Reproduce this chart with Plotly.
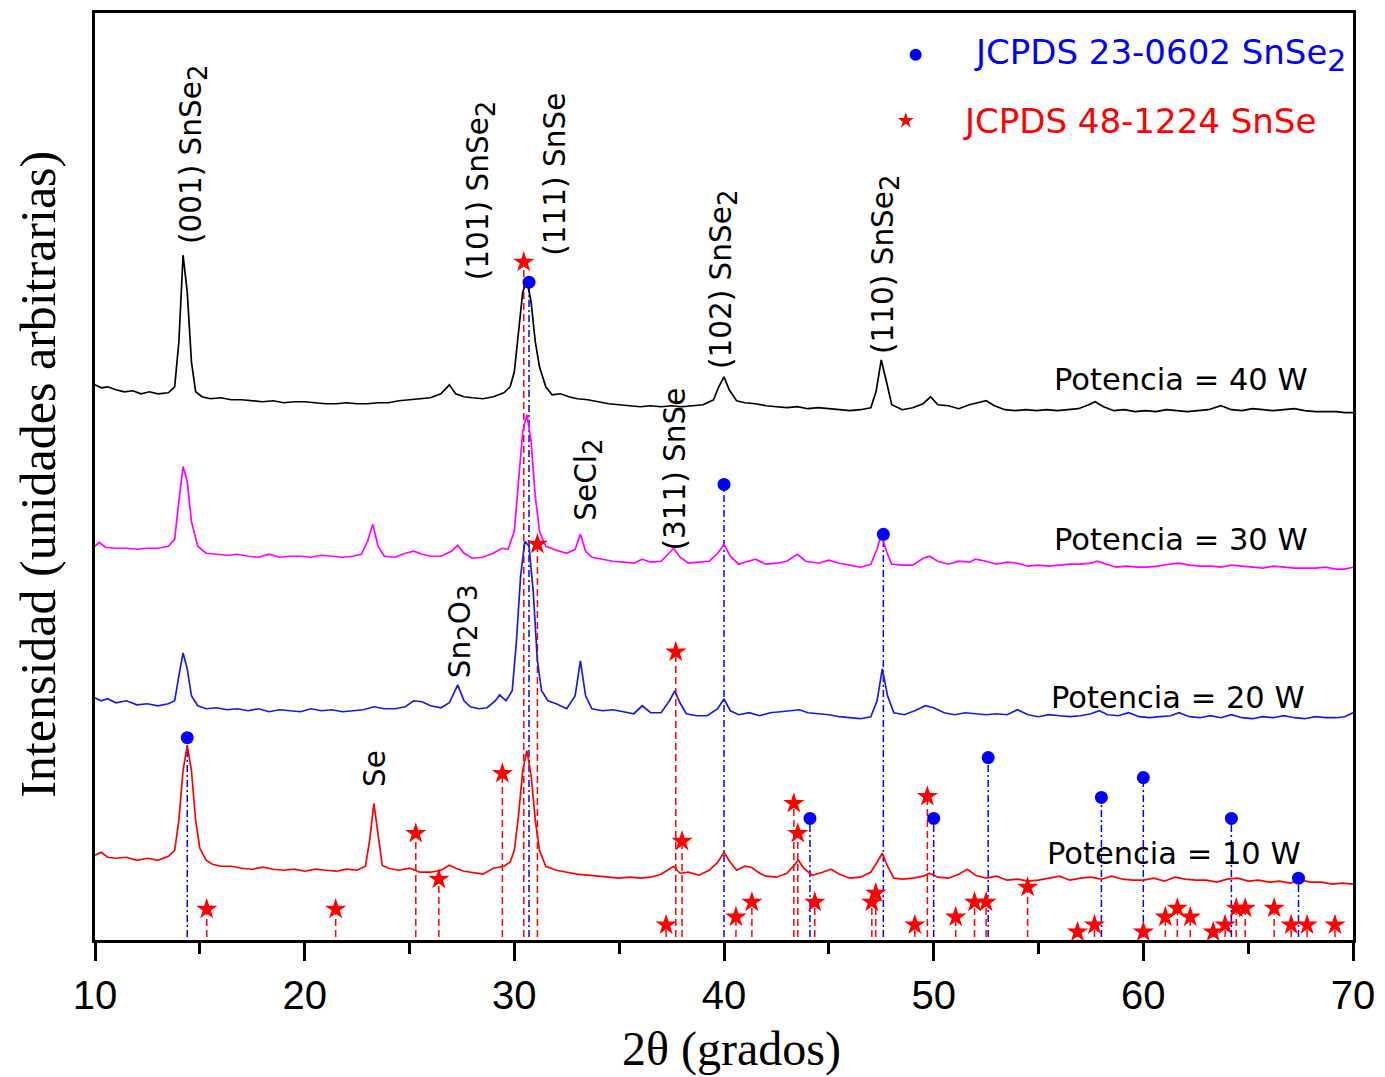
import plotly.graph_objects as go

# ---------------- data (2θ in degrees, intensity in arbitrary units incl. vertical offset) -------------
x_10w = [10.0,10.3,10.6,11.0,11.5,12.0,12.5,13.0,13.5,13.8,14.0,14.2,14.4,14.6,14.8,15.0,15.3,15.6,16.0,16.5,17.0,17.5,18.0,18.5,19.0,19.5,20.0,20.5,21.0,21.5,22.0,22.5,22.9,23.1,23.3,23.5,23.7,24.0,24.5,25.0,25.5,26.0,26.5,26.9,27.2,27.6,28.0,28.5,29.0,29.5,29.8,30.0,30.2,30.4,30.6,30.8,31.0,31.2,31.5,32.0,32.5,33.0,33.5,34.0,34.5,35.0,35.5,36.0,36.5,37.0,37.3,37.6,37.9,38.3,38.8,39.3,39.7,40.0,40.3,40.6,41.0,41.3,41.7,42.0,42.5,43.0,43.3,43.55,43.8,44.2,44.7,45.1,45.5,46.0,46.5,47.0,47.3,47.55,47.8,48.1,48.5,49.0,49.5,49.8,50.2,50.7,51.2,51.6,52.0,52.5,53.0,53.5,54.0,54.5,55.0,55.5,56.0,56.5,57.0,57.5,58.0,58.5,59.0,59.5,60.0,60.5,61.0,61.5,62.0,62.5,63.0,63.5,64.0,64.5,65.0,65.5,66.0,66.5,67.0,67.5,68.0,68.5,69.0,69.5,70.0]
y_10w = [85,88,83,82,83,80,82,80,84,90,120,170,195,170,120,92,80,76,74,74,72,71,73,71,70,71,69,71,70,69,71,70,74,100,137,105,75,72,70,72,68,68,70,75,72,69,68,66,72,74,78,90,125,170,190,165,120,90,74,70,68,66,65,64,63,62,63,62,63,66,70,74,67,68,65,70,78,88,78,70,74,73,67,64,63,67,74,80,72,65,68,71,66,62,63,68,78,87,74,62,61,62,64,67,63,62,66,71,65,62,64,60,61,59,60,62,64,60,62,63,61,64,61,60,60,62,59,63,61,60,60,58,61,62,59,60,58,59,57,60,58,58,56,57,56]

x_20w = [10.0,10.3,10.6,11.0,11.5,12.0,12.5,13.0,13.5,13.8,14.0,14.2,14.4,14.6,14.9,15.3,15.8,16.3,16.8,17.3,17.8,18.3,18.8,19.3,19.8,20.3,20.8,21.3,21.8,22.3,22.8,23.3,23.8,24.3,24.8,25.2,25.6,26.0,26.5,26.9,27.3,27.6,27.9,28.3,28.7,29.1,29.3,29.6,29.9,30.1,30.3,30.5,30.7,30.9,31.1,31.3,31.6,32.0,32.5,32.9,33.15,33.4,33.7,34.2,34.7,35.2,35.7,36.1,36.5,37.0,37.4,37.65,37.9,38.2,38.7,39.2,39.7,40.0,40.3,40.7,41.2,41.7,42.2,42.7,43.2,43.6,44.0,44.5,45.0,45.5,46.0,46.5,47.0,47.3,47.55,47.8,48.1,48.6,49.1,49.6,50.0,50.5,51.0,51.5,52.0,52.5,53.0,53.5,54.0,54.5,55.0,55.5,56.0,56.5,57.0,57.5,57.9,58.3,58.8,59.3,59.8,60.3,60.8,61.3,61.7,62.2,62.7,63.2,63.7,64.2,64.7,65.2,65.7,66.2,66.7,67.2,67.7,68.2,68.7,69.2,69.6,70.0]
y_20w = [243,240,242,238,240,236,237,235,237,240,265,288,272,245,235,232,233,231,232,230,232,229,231,230,229,232,230,231,229,230,231,234,232,232,234,240,239,235,233,238,256,240,234,232,233,240,246,240,250,300,365,400,395,350,280,250,240,237,232,245,280,245,232,230,231,229,227,235,228,228,240,250,238,227,225,225,232,242,230,226,228,225,228,229,230,231,228,227,226,224,223,222,224,240,272,245,228,226,230,235,233,228,226,228,227,226,227,226,231,226,224,226,225,224,225,227,230,226,225,228,224,223,224,225,228,224,223,225,223,226,223,222,224,223,225,223,222,224,223,223,224,228]

x_30w = [10.0,10.2,10.5,11.0,11.5,12.0,12.5,13.0,13.5,13.8,14.0,14.2,14.4,14.6,14.9,15.3,15.8,16.3,16.8,17.3,17.8,18.3,18.8,19.3,19.8,20.3,20.8,21.3,21.8,22.3,22.7,23.0,23.25,23.5,23.8,24.3,24.8,25.2,25.6,26.0,26.5,27.0,27.3,27.6,28.0,28.5,29.0,29.4,29.7,30.0,30.2,30.4,30.6,30.8,31.0,31.2,31.5,32.0,32.5,32.9,33.15,33.4,33.7,34.2,34.7,35.2,35.7,36.1,36.5,37.0,37.3,37.6,37.9,38.3,38.8,39.3,39.7,40.0,40.3,40.7,41.0,41.5,42.0,42.5,43.0,43.5,43.9,44.5,45.0,45.5,46.0,46.5,47.0,47.3,47.5,47.75,48.0,48.5,49.0,49.5,49.8,50.2,50.7,51.2,51.7,52.0,52.5,53.0,53.5,54.0,54.5,55.0,55.5,56.0,56.5,57.0,57.5,57.8,58.2,58.7,59.2,59.7,60.2,60.7,61.2,61.7,62.2,62.7,63.2,63.7,64.2,64.7,65.2,65.7,66.2,66.7,67.2,67.7,68.2,68.7,69.2,69.6,70.0]
y_30w = [395,399,394,393,393,392,393,393,395,402,440,475,460,420,395,388,387,386,387,385,384,387,384,385,385,384,386,385,384,385,387,400,417,395,385,384,388,390,387,385,385,390,396,388,383,384,388,393,392,410,460,510,527,500,445,410,395,391,388,392,407,390,384,382,380,379,378,382,379,380,386,393,384,378,379,380,388,397,385,377,379,382,377,378,380,387,380,378,381,378,376,374,377,392,407,390,377,376,376,383,385,380,377,380,379,382,380,377,379,378,375,376,375,376,377,377,378,380,377,374,375,374,374,375,377,378,376,375,375,374,376,375,374,373,375,374,373,373,373,374,372,372,374]

x_40w = [10.0,10.3,10.6,11.0,11.4,11.8,12.2,12.6,13.0,13.5,13.8,14.0,14.2,14.4,14.6,14.8,15.1,15.5,16.0,16.5,17.0,17.5,18.0,18.5,19.0,19.5,20.0,20.5,21.0,21.5,22.0,22.5,23.0,23.5,24.0,24.5,25.0,25.5,26.0,26.5,26.9,27.2,27.6,28.0,28.5,29.0,29.5,29.8,30.0,30.2,30.4,30.6,30.8,31.0,31.2,31.5,31.8,32.2,32.6,33.0,33.5,34.0,34.5,35.0,35.5,36.0,36.5,37.0,37.5,38.0,38.5,39.0,39.5,39.75,40.0,40.25,40.6,41.0,41.5,42.0,42.5,43.0,43.5,44.0,44.5,45.0,45.5,46.0,46.5,47.0,47.25,47.5,47.75,48.0,48.5,49.0,49.5,49.85,50.2,50.7,51.2,51.7,52.1,52.5,52.9,53.4,53.9,54.4,54.9,55.4,55.9,56.4,56.9,57.4,57.7,58.1,58.6,59.1,59.6,60.1,60.6,61.1,61.6,62.1,62.6,63.1,63.7,64.2,64.7,65.2,65.7,66.2,66.7,67.2,67.7,68.2,68.7,69.2,69.6,70.0]
y_40w = [557,554,555,552,550,551,548,550,548,549,555,600,687,650,580,550,545,543,544,542,542,541,540,541,539,540,540,539,538,538,539,538,538,539,539,541,542,543,544,548,557,548,545,544,543,545,549,555,570,610,650,662,640,600,575,555,547,548,545,543,542,540,538,537,536,535,536,535,536,535,536,537,542,555,565,552,541,539,538,536,535,534,535,533,534,533,532,531,532,534,550,582,560,537,532,534,538,545,537,536,533,537,539,541,536,532,531,532,531,532,531,532,533,537,540,535,531,532,530,531,530,532,531,530,531,532,536,532,531,533,532,531,532,533,531,530,530,530,529,529]

# JCPDS 23-0602 SnSe2 reference positions / marker heights
snse2_pos = [14.4, 30.7, 40.0, 44.1, 47.6, 50.0, 52.6, 58.0, 60.0, 64.2, 67.4]
snse2_h   = [203, 660, 457, 122, 407, 122, 183, 143, 163, 122, 62]
# JCPDS 48-1224 SnSe reference positions / marker heights
snse_pos = [15.33, 21.48, 25.3, 26.4, 29.43, 30.45, 31.1, 37.24, 37.7, 38.0, 40.57, 41.33, 43.33, 43.52,
            44.33, 47.05, 47.24, 49.1, 49.7, 51.05, 51.95, 52.5, 54.48, 56.86, 57.67, 60.0, 61.05, 61.62,
            62.24, 63.33, 63.9, 64.43, 64.86, 66.24, 67.05, 67.81, 69.14]
snse_h   = [31, 31, 107, 61, 167, 680, 397, 15, 289, 99, 23, 38, 137, 107,
            38, 38, 47, 15, 144, 23, 38, 38, 53, 8, 15, 8, 23, 32,
            23, 8, 15, 32, 32, 32, 15, 15, 15]
line_base = 3

series_names = ["Potencia = 10 W", "Potencia = 20 W", "Potencia = 30 W", "Potencia = 40 W"]
series_colors = ["#ff0000", "#1a1ae6", "#ff00ff", "#000000"]

fig = go.Figure()

def stems(pos, h):
    xs, ys = [], []
    for p, v in zip(pos, h):
        xs += [p, p, None]
        ys += [line_base, v, None]
    return xs, ys

# reference stick lines
sx, sy = stems(snse_pos, snse_h)
fig.add_trace(go.Scatter(x=sx, y=sy, mode="lines", line=dict(color="#ff0000", width=1.5, dash="7px,4px"),
                         showlegend=False, hoverinfo="skip"))
sx, sy = stems(snse2_pos, snse2_h)
fig.add_trace(go.Scatter(x=sx, y=sy, mode="lines", line=dict(color="#0000ff", width=1.5, dash="7px,3px,2px,3px"),
                         showlegend=False, hoverinfo="skip"))

# measured patterns
for xs, ys, nm, col in [(x_10w, y_10w, series_names[0], series_colors[0]),
                        (x_20w, y_20w, series_names[1], series_colors[1]),
                        (x_30w, y_30w, series_names[2], series_colors[2]),
                        (x_40w, y_40w, series_names[3], series_colors[3])]:
    fig.add_trace(go.Scatter(x=xs, y=ys, mode="lines", name=nm, line=dict(color=col, width=1.7),
                             showlegend=False))

# reference markers
fig.add_trace(go.Scatter(x=snse_pos, y=snse_h, mode="markers",
                         marker=dict(symbol="star", size=16, color="#ff0000", line=dict(width=0)),
                         showlegend=False, name="JCPDS 48-1224 SnSe"))
fig.add_trace(go.Scatter(x=snse2_pos, y=snse2_h, mode="markers",
                         marker=dict(symbol="circle", size=13, color="#0000ff", line=dict(width=0)),
                         showlegend=False, name="JCPDS 23-0602 SnSe2"))

# legend (manual)
fig.add_trace(go.Scatter(x=[49.14], y=[888], mode="markers",
                         marker=dict(symbol="circle", size=12, color="#0000ff"), showlegend=False, hoverinfo="skip"))
fig.add_trace(go.Scatter(x=[48.67], y=[822], mode="markers",
                         marker=dict(symbol="star", size=12, color="#ff0000"), showlegend=False, hoverinfo="skip"))

sans = "DejaVu Sans, Verdana, sans-serif"
serif = "Liberation Serif, Times New Roman, serif"


def sub(s, px):
    return "<sub><span style='font-size:%dpx'>%s</span></sub>" % (px, s)


ann = []
ann.append(dict(x=51.81, y=888, text="JCPDS 23-0602 SnSe" + sub("2", 30), xanchor="left", yanchor="middle",
                showarrow=False, font=dict(family=sans, size=34, color="#0000ff")))
ann.append(dict(x=51.29, y=822, text="JCPDS 48-1224 SnSe", xanchor="left", yanchor="middle",
                showarrow=False, font=dict(family=sans, size=34, color="#ff0000")))

# power labels
for txt, xx, yy in [(series_names[3], 55.62, 562), (series_names[2], 55.62, 402),
                    (series_names[1], 55.52, 243), (series_names[0], 55.33, 87)]:
    ann.append(dict(x=xx, y=yy, text=txt, xanchor="left", yanchor="middle", showarrow=False,
                    font=dict(family=sans, size=30.5, color="#000000")))

# peak labels (rotated)
s2 = sub("2", 26)
peak_labels = [("(001) SnSe" + s2, 14.7, 788), ("(101) SnSe" + s2, 28.4, 752),
               ("(111) SnSe", 31.95, 768), ("(102) SnSe" + s2, 39.95, 663),
               ("(110) SnSe" + s2, 47.67, 678), ("SeCl" + s2, 33.52, 462),
               ("(311) SnSe", 37.62, 472), ("Sn" + s2 + "O" + sub("3", 26), 27.52, 310),
               ("Se", 23.33, 172)]
for txt, xx, yy in peak_labels:
    ann.append(dict(x=xx, y=yy, text=txt, textangle=-90, xanchor="center", yanchor="middle",
                    showarrow=False, font=dict(family=sans, size=29.5, color="#000000")))

# axis titles
ann.append(dict(x=-0.0452, y=0.502, xref="paper", yref="paper", text="Intensidad (unidades arbitrarias)",
                textangle=-90, xanchor="center", yanchor="middle", showarrow=False,
                font=dict(family=serif, size=50, color="#000000")))
ann.append(dict(x=0.506, y=-0.118, xref="paper", yref="paper", text="2θ (grados)",
                xanchor="center", yanchor="middle", showarrow=False,
                font=dict(family=serif, size=48, color="#000000")))

fig.update_layout(
    width=1385, height=1077,
    margin=dict(l=95, r=30, t=10, b=137),
    plot_bgcolor="#ffffff", paper_bgcolor="#ffffff",
    annotations=ann,
    showlegend=False,
)
fig.update_xaxes(range=[10, 70], dtick=10, tick0=10, showgrid=False, zeroline=False,
                 showline=True, linecolor="#000000", linewidth=3, mirror=True,
                 ticks="outside", ticklen=18, tickwidth=2.5, tickcolor="#000000",
                 minor=dict(dtick=5, tick0=10, ticks="outside", ticklen=11, tickwidth=2.5, tickcolor="#000000"),
                 tickfont=dict(family="Liberation Sans, Arial, sans-serif", size=40, color="#000000"))
fig.update_yaxes(range=[0, 930], showgrid=False, zeroline=False, showticklabels=False, ticks="",
                 showline=True, linecolor="#000000", linewidth=3, mirror=True)

fig.write_html("out.html")
